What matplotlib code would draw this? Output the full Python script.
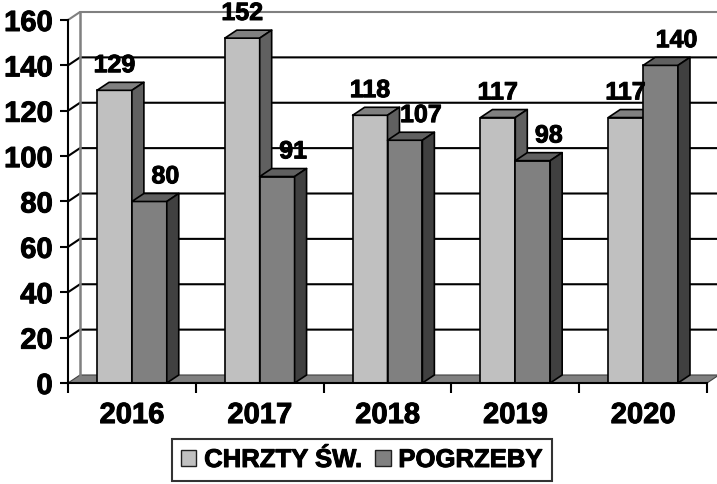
import matplotlib
matplotlib.use('Agg')
import matplotlib.pyplot as plt
from matplotlib.patches import Polygon, Patch
from matplotlib.transforms import offset_copy
import matplotlib.patheffects as pe

years = ['2016', '2017', '2018', '2019', '2020']
chrzty = [129, 152, 118, 117, 117]
pogrzeby = [80, 91, 107, 98, 140]
series_names = ['CHRZTY ŚW.', 'POGRZEBY']
yticks = [0, 20, 40, 60, 80, 100, 120, 140, 160]

plt.rcParams['font.family'] = ['Liberation Sans', 'DejaVu Sans']
plt.rcParams['font.weight'] = 'bold'

W, H = 717, 484
fig = plt.figure(figsize=(W / 100, H / 100), dpi=100)
ax = fig.add_axes([68 / W, 101 / H, 639 / W, 363 / H])
n = len(years)
ax.set_xlim(-0.5, n - 0.5)
ax.set_ylim(0, 160)

thick = [pe.withStroke(linewidth=0.7, foreground='black')]

# depth offset (data units)
dx = 12 / 128
dy = 8 / (363 / 160)

wall_gray = '#808080'
# floor
ax.add_patch(Polygon([(-0.5, 0), (n - 0.5, 0), (n - 0.5 + dx, dy), (-0.5 + dx, dy)],
                     closed=True, facecolor='#808080', edgecolor='#404040', lw=0.8,
                     clip_on=False, zorder=1))
# gridlines on side & back walls
for v in yticks[1:]:
    col = wall_gray if v == yticks[-1] else 'black'
    ax.plot([-0.5, -0.5 + dx, n - 0.5 + dx + 0.2], [v, v + dy, v + dy], color=col,
            lw=1.5, clip_on=False, zorder=1, solid_capstyle='butt')
ax.plot([-0.5 + dx, -0.5 + dx], [dy, yticks[-1] + dy], color=wall_gray, lw=1.8,
        clip_on=False, zorder=1)

w = 0.273
front_cols = ['#C0C0C0', '#808080']
top_cols = ['#808080', '#606060']
side_cols = ['#606060', '#404040']
label_shift = [0, 16]

for i in range(n):
    for s, vals in enumerate([chrzty, pogrzeby]):
        h = vals[i]
        xl = i - w + s * w
        z = 3 + i * 2 + s
        ax.bar(xl, h, width=w, align='edge', color=front_cols[s], edgecolor='black',
               lw=1.2, zorder=z)
        ax.add_patch(Polygon([(xl, h), (xl + w, h), (xl + w + dx, h + dy), (xl + dx, h + dy)],
                             closed=True, facecolor=top_cols[s], edgecolor='black', lw=1.2,
                             zorder=z, joinstyle='round'))
        ax.add_patch(Polygon([(xl + w, 0), (xl + w + dx, dy), (xl + w + dx, h + dy), (xl + w, h)],
                             closed=True, facecolor=side_cols[s], edgecolor='black', lw=1.2,
                             zorder=z, joinstyle='round'))
        tr = offset_copy(ax.transData, fig=fig, x=label_shift[s] * 0.72, y=0, units='points')
        ax.text(xl + w / 2, h + 8, str(h), transform=tr, ha='center', va='baseline',
                fontsize=18, fontweight='bold', zorder=50, path_effects=thick)

for sp in ['top', 'right']:
    ax.spines[sp].set_visible(False)
ax.spines['left'].set_linewidth(1.5)
ax.spines['bottom'].set_linewidth(1.5)
ax.spines['left'].set_zorder(40)
ax.spines['bottom'].set_zorder(40)

ax.set_yticks(yticks)
ax.set_yticklabels([str(v) for v in yticks], fontsize=21, fontweight='bold')
ax.tick_params(axis='y', length=6, width=1.5, pad=5)
ax.set_xticks([i - 0.5 for i in range(n + 1)])
ax.set_xticklabels([''] * (n + 1))
ax.tick_params(axis='x', which='major', length=7, width=1.5)
ax.set_xticks(range(n), minor=True)
ax.set_xticklabels(years, minor=True, fontsize=21, fontweight='bold')
ax.tick_params(axis='x', which='minor', length=0, pad=13)
for t in ax.get_yticklabels() + ax.get_xticklabels(minor=True):
    t.set_path_effects(thick)

handles = [Patch(facecolor=front_cols[0], edgecolor='#202020', lw=1.0),
           Patch(facecolor=front_cols[1], edgecolor='#202020', lw=1.0)]
leg = fig.legend(handles, series_names, loc='center', bbox_to_anchor=(362 / W, 1 - 460 / H),
                 ncol=2, frameon=True, fancybox=False, edgecolor='black',
                 prop={'size': 18.5, 'weight': 'bold'}, handlelength=0.6, handleheight=0.6,
                 handletextpad=0.3, columnspacing=0.5, borderpad=0.35, borderaxespad=0)
leg.get_frame().set_linewidth(1.5)
for t in leg.get_texts():
    t.set_path_effects(thick)

fig.savefig('out.png', dpi=100)
